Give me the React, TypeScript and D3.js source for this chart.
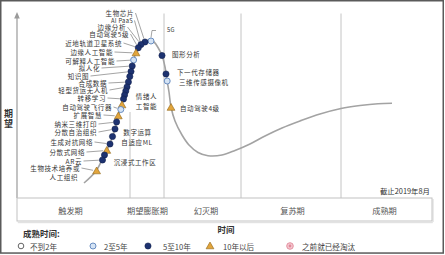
import React from 'react';
import * as d3 from 'd3';

const W = 445;
const H = 255;

// Hype curve (time, expectation)
const CURVE_T = [67, 79, 87, 93, 98, 101.5, 105, 108, 111.5, 114.5, 117, 120, 124, 129, 133, 137, 141, 145, 148, 150, 152, 154, 158, 165, 172, 181, 191, 205, 218, 233, 248, 265, 283, 303, 324, 343, 361, 375];
const CURVE_E = [15, 27, 42.5, 54.5, 69, 83, 94, 106, 117, 129, 140, 147.5, 153.5, 157, 157.7, 156, 150.5, 142.5, 131, 118, 106, 91, 77, 63, 53, 45.5, 42.3, 43, 47.5, 54, 62, 70, 77, 84, 89.5, 92.5, 94.3, 94.7];

// Technology markers on the curve
const MARK_T = [134, 128, 124, 121.3, 119, 116.6, 115.2, 114, 112.8, 111.4, 110, 108.8, 107.6, 106.5, 105, 103.8, 101.3, 99.6, 98, 95.5, 93, 89.8, 87.5, 85.5, 79.6, 145, 149, 150.2, 154];
const MARK_E = [157, 156, 153.5, 150.2, 145, 138, 132, 126.5, 121.5, 116, 111, 107, 103, 99, 93, 88.5, 82, 76, 69, 61.5, 54, 47.5, 43, 38, 27, 142.5, 124, 117, 90.5];
// l = 2至5年, d = 5至10年, t = 10年以后
const MARK_KIND = ['l', 'd', 'd', 'd', 't', 'l', 'd', 'd', 'd', 'd', 'd', 'd', 'd', 'd', 't', 'l', 't', 'd', 'd', 'd', 'd', 't', 'd', 'd', 't', 'd', 'd', 'l', 't'];

// Left-hand labels with leader lines
const LEFT_LABELS = ['生物芯片', 'AI PaaS', '边缘分析', '自动驾驶5级', '近地轨道卫星系统', '边缘人工智能', '可解释人工智能', '拟人化', '知识图', '合成数据', '轻型货运无人机', '转移学习', '自动驾驶飞行器', '扩展智慧', '纳米三维打印', '分散自治组织', '生成对抗网络', '分散式网络', 'AR云', '生物技术培养或|人工组织'];
const LEFT_T = [117, 116, 109, 112, 105, 96, 98, 83, 72, 90, 91, 89, 95, 85, 80, 80, 76, 68, 65, 63];
const LEFT_E = [185, 177.5, 171, 164, 155, 146, 137, 130, 122, 115, 108, 100, 91, 83, 74, 66, 56, 46, 37, 30];
const LEFT_TARGET = [1, 2, 2, 3, 3, 4, 5, 6, 7, 9, 10, 13, 15, 16, 17, 18, 20, 21, 23, 24];

// Labels right of the descending side
const RIGHT_LABELS = ['5G', '图形分析', '下一代存储器', '三维传感摄像机', '自动驾驶4级'];
const RIGHT_T = [150, 155, 160, 162, 163];
const RIGHT_E = [169, 144, 126, 116.5, 90];

// Labels inside the peak phase
const MID_LABELS = ['情绪人', '工智能', '数字运算', '自适应ML', '沉浸式工作区'];
const MID_T = [129.5, 129.5, 120.5, 120, 118];
const MID_E = [102, 92, 66, 56, 36];

const PHASES = ['触发期', '期望膨胀期', '幻灭期', '复苏期', '成熟期'];
const PHASE_BOUNDS = [0, 113, 147, 224, 324, 415];
const PHASE_LABEL_T = [53.5, 130.5, 189, 275.5, 367.5];

const LEGEND_LABELS = ['不到2年', '2至5年', '5至10年', '10年以后', '之前就已经淘汰'];
const LEGEND_KINDS = ['o', 'l', 'd', 't', 'x'];

const FONT = "'Noto Sans CJK SC', 'Noto Sans', sans-serif";

function Marker({ kind, cx, cy }: { kind: string; cx: number; cy: number }) {
  if (kind === 'd') return <circle cx={cx} cy={cy} r={3.1} fill="#1d3270" stroke="#13224f" strokeWidth={0.6} />;
  if (kind === 'l') return <circle cx={cx} cy={cy} r={3} fill="#d4e3f4" stroke="#5b82bb" strokeWidth={0.9} />;
  if (kind === 't') {
    const p = `M${cx},${cy - 4}L${cx - 3.9},${cy + 2.8}L${cx + 3.9},${cy + 2.8}Z`;
    return <path d={p} fill="#e2a53c" stroke="#8f6418" strokeWidth={0.6} />;
  }
  if (kind === 'o') return <circle cx={cx} cy={cy} r={2.8} fill="#fff" stroke="#555" strokeWidth={0.9} />;
  return (
    <g>
      <circle cx={cx} cy={cy} r={3.3} fill="#f6c9d1" stroke="#e0899a" strokeWidth={0.9} />
      <circle cx={cx} cy={cy} r={1.4} fill="#e0899a" />
    </g>
  );
}

export default function App() {
  const x = d3.scaleLinear().domain([0, 415]).range([17, 432]);
  const y = d3.scaleLinear().domain([0, 184]).range([198, 14]);

  const pts: [number, number][] = CURVE_T.map((t, i) => [t, CURVE_E[i]]);
  const line = d3
    .line<[number, number]>()
    .x((d) => x(d[0]))
    .y((d) => y(d[1]))
    .curve(d3.curveCatmullRom.alpha(0.5));

  const marks = MARK_T.map((t, i) => ({ cx: x(t), cy: y(MARK_E[i]), kind: MARK_KIND[i] }));

  const leaders = LEFT_LABELS.map((_, i) => {
    const sx = x(LEFT_T[i]) + 1.5;
    const sy = y(LEFT_E[i]);
    const m = marks[LEFT_TARGET[i]];
    const dx = m.cx - sx;
    const dy = m.cy - sy;
    const len = Math.sqrt(dx * dx + dy * dy) || 1;
    const k = (len - 3.6) / len;
    return { x1: sx, y1: sy, x2: sx + dx * k, y2: sy + dy * k };
  });

  const m0 = marks[0];
  const legendMarkX = [21, 93, 148, 210, 290];
  const legendTextX = [30, 104, 163, 223, 302];
  const LFS = 6.5;
  const LLS = 0.6;

  return (
    <svg width={W} height={H} style={{ position: 'absolute', left: 0, top: 0, background: '#fff' }} fontFamily={FONT}>
      <rect x={0} y={0} width={W} height={H} fill="#fff" />
      {/* outer frame */}
      <rect x={0.75} y={0.75} width={442.5} height={252.3} fill="none" stroke="#5a5a5a" strokeWidth={1.5} />

      {/* phase dividers */}
      <line x1={x(PHASE_BOUNDS[1])} x2={x(PHASE_BOUNDS[1])} y1={y(86)} y2={y(0)} stroke="#c4c4c4" strokeWidth={1} />
      {[2, 3, 4].map((i) => (
        <line key={i} x1={x(PHASE_BOUNDS[i])} x2={x(PHASE_BOUNDS[i])} y1={y(184.5)} y2={y(0)} stroke="#c4c4c4" strokeWidth={1} />
      ))}

      {/* y axis with arrow */}
      <line x1={x(0)} x2={x(0)} y1={y(0)} y2={y(182)} stroke="#9a9a9a" strokeWidth={1.2} />
      <path d={`M${x(0)},${y(186)}L${x(0) - 2.8},${y(179.5)}L${x(0) + 2.8},${y(179.5)}Z`} fill="#9a9a9a" />

      {/* phase box */}
      <rect x={x(0) + 0.8} y={222} width={x(415) - x(0)} height={1.2} fill="#e2e2e2" />
      <rect x={x(415) + 0.5} y={199} width={1.2} height={23} fill="#e2e2e2" />
      <rect x={x(0)} y={y(0)} width={x(415) - x(0)} height={23} fill="#fff" stroke="#c2c2c2" strokeWidth={1} />
      {PHASES.map((p, i) => (
        <text key={p} x={x(PHASE_LABEL_T[i])} y={209.5} textAnchor="middle" dominantBaseline="central" fontSize={8.2} fill="#555">
          {p}
        </text>
      ))}

      {/* leaders */}
      {leaders.map((l, i) => (
        <line key={i} x1={l.x1} y1={l.y1} x2={l.x2} y2={l.y2} stroke="#666" strokeWidth={0.6} />
      ))}
      <path d={`M${m0.cx},${m0.cy - 3.5}L${m0.cx + 1},${m0.cy - 10.5}L${m0.cx + 5},${m0.cy - 10.5}`} fill="none" stroke="#666" strokeWidth={0.6} />

      {/* curve */}
      <path d={line(pts) || ''} fill="none" stroke="#a3a3a3" strokeWidth={1.6} />

      {/* markers */}
      {marks.map((m, i) => (
        <Marker key={i} kind={m.kind} cx={m.cx} cy={m.cy} />
      ))}

      {/* left labels */}
      {LEFT_LABELS.map((lab, i) => {
        const parts = lab.split('|');
        return parts.map((p, j) => (
          <text
            key={i + '-' + j}
            x={x(LEFT_T[i]) - (j > 0 ? 2 : 0)}
            y={y(LEFT_E[i]) + j * 9}
            textAnchor="end"
            dominantBaseline="central"
            fontSize={p === 'AI PaaS' ? 5.8 : LFS}
            letterSpacing={p === 'AI PaaS' ? 0.3 : LLS}
            fill="#333"
          >
            {p}
          </text>
        ));
      })}

      {/* right labels */}
      {RIGHT_LABELS.map((lab, i) => (
        <text key={lab} x={x(RIGHT_T[i])} y={y(RIGHT_E[i])} dominantBaseline="central" fontSize={lab === '5G' ? 5.8 : LFS} letterSpacing={lab === '5G' ? 0.3 : LLS} fill="#333">
          {lab}
        </text>
      ))}

      {/* mid labels */}
      {MID_LABELS.map((lab, i) => (
        <text key={lab} x={x(MID_T[i])} y={y(MID_E[i])} textAnchor="middle" dominantBaseline="central" fontSize={LFS} letterSpacing={LLS} fill="#333">
          {lab}
        </text>
      ))}

      {/* as-of note */}
      <text x={430} y={190} textAnchor="end" dominantBaseline="central" fontSize={7.4} fill="#333">
        截止2019年8月
      </text>

      {/* axis titles */}
      <text x={8.5} y={113.5} textAnchor="middle" dominantBaseline="central" fontSize={9} fontWeight={700} fill="#333">期</text>
      <text x={8.5} y={123.5} textAnchor="middle" dominantBaseline="central" fontSize={9} fontWeight={700} fill="#333">望</text>
      <text x={226} y={229} textAnchor="middle" dominantBaseline="central" fontSize={8.5} fontWeight={700} fill="#333">时间</text>

      {/* legend */}
      <text x={23} y={233} dominantBaseline="central" fontSize={8.5} fontWeight={700} fill="#333">成熟时间:</text>
      {LEGEND_LABELS.map((lab, i) => (
        <g key={lab}>
          <Marker kind={LEGEND_KINDS[i]} cx={legendMarkX[i]} cy={246} />
          <text x={legendTextX[i]} y={246.5} dominantBaseline="central" fontSize={7.6} fill="#444">
            {lab}
          </text>
        </g>
      ))}
    </svg>
  );
}
